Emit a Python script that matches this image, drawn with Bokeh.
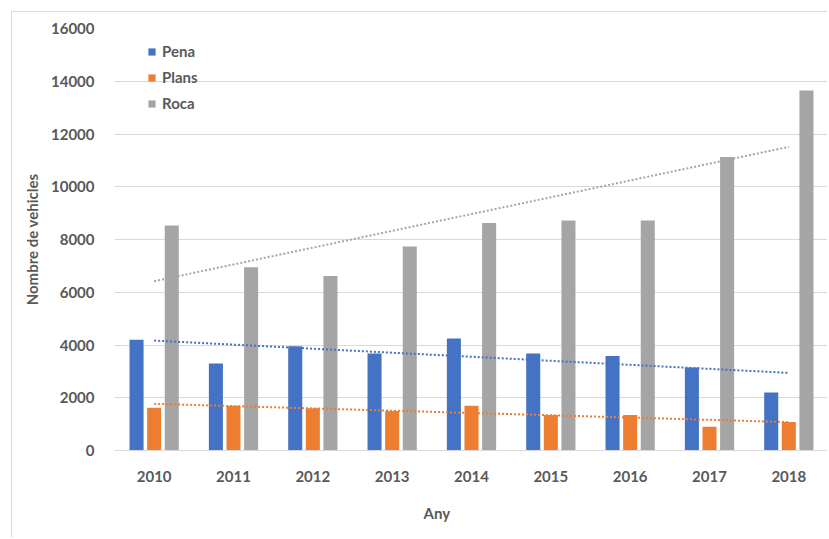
import numpy as np
from bokeh.plotting import figure
from bokeh.models import ColumnDataSource, Legend, LegendItem, Title
from bokeh.transform import dodge
from bokeh.embed import file_html
from bokeh.resources import INLINE

years = ["2010", "2011", "2012", "2013", "2014", "2015", "2016", "2017", "2018"]
pena = [4200, 3300, 3950, 3680, 4250, 3680, 3580, 3150, 2200]
plans = [1620, 1700, 1600, 1500, 1700, 1350, 1350, 900, 1080]
roca = [8530, 6950, 6620, 7730, 8630, 8720, 8720, 11130, 13650]
y_ticks = [0, 2000, 4000, 6000, 8000, 10000, 12000, 14000, 16000]

colors = {"Pena": "#4472C4", "Plans": "#ED7D31", "Roca": "#A5A5A5"}
FONT = "Lato"
TXT = "#595959"

src = ColumnDataSource(dict(year=years, Pena=pena, Plans=plans, Roca=roca))

p = figure(x_range=years, y_range=(0, 16000), width=816, height=526,
           output_backend="svg", toolbar_location=None,
           min_border_left=102, min_border_right=0, min_border_top=16, min_border_bottom=88)
p.margin = (11, 0, 0, 11)
p.styles = {"border-top": "1px solid #d9d9d9", "border-left": "1px solid #d9d9d9"}
p.outline_line_color = None
p.xgrid.grid_line_color = None
p.ygrid.grid_line_color = "#D9D9D9"
p.ygrid.grid_line_width = 1

offs = {"Pena": -0.222, "Plans": 0.0, "Roca": 0.222}
renderers = {}
for name in ["Pena", "Plans", "Roca"]:
    r = p.vbar(x=dodge("year", offs[name], range=p.x_range), top=name, width=0.177,
               source=src, fill_color=colors[name], line_color=None)
    renderers[name] = r

# linear trendlines (Excel-style), from the data
xs = np.arange(len(years))
for name, vals in [("Pena", pena), ("Plans", plans), ("Roca", roca)]:
    k, b = np.polyfit(xs, np.array(vals, dtype=float), 1)
    fit = (k * xs + b).tolist()
    p.line(x=years, y=fit, line_color=colors[name], line_width=2, line_dash="2 2")

legend = Legend(items=[LegendItem(label=n, renderers=[renderers[n]]) for n in ["Pena", "Plans", "Roca"]],
                location=(33, 337))
legend.glyph_width = 9
legend.glyph_height = 9
legend.label_height = 20
legend.spacing = 6
legend.padding = 0
legend.margin = 0
legend.label_standoff = 6
legend.border_line_color = None
legend.background_fill_alpha = 0
legend.label_text_font = FONT
legend.label_text_font_style = "bold"
legend.label_text_font_size = "15px"
legend.label_text_color = TXT
p.add_layout(legend)

p.yaxis.ticker = y_ticks
p.yaxis.axis_line_color = None
p.yaxis.major_tick_line_color = None
p.yaxis.minor_tick_line_color = None
p.yaxis.major_label_standoff = 14
p.yaxis.axis_label = "Nombre de vehicles"
p.yaxis.axis_label_standoff = 7

p.xaxis.axis_line_color = "#D9D9D9"
p.xaxis.major_tick_line_color = None
p.xaxis.minor_tick_line_color = None
p.xaxis.major_label_standoff = 14

for ax in [p.xaxis, p.yaxis]:
    ax.major_label_text_font = FONT
    ax.major_label_text_font_style = "bold"
    ax.major_label_text_font_size = "15px"
    ax.major_label_text_color = TXT
    ax.axis_label_text_font = FONT
    ax.axis_label_text_font_style = "bold"
    ax.axis_label_text_font_size = "15px"
    ax.axis_label_text_color = TXT

xtitle = Title(text="Any", align="left", offset=309, text_font=FONT, text_font_style="bold",
               text_font_size="15px", text_color=TXT, standoff=34)
p.add_layout(xtitle, "below")

open("out.html", "w").write(file_html(p, INLINE))
